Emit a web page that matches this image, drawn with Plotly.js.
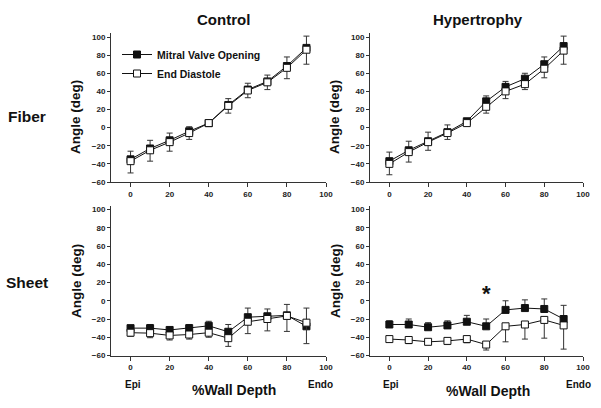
<!DOCTYPE html>
<html>
<head>
<meta charset="utf-8">
<script src="https://cdn.plot.ly/plotly-3.0.1.min.js"></script>
<style>html,body{margin:0;padding:0;background:#fff;}#chart{width:601px;height:408px;}</style>
</head>
<body>
<div id="chart"></div>
<script>
// Data: % wall depth
const depth = [0, 10, 20, 30, 40, 50, 60, 70, 80, 90];
const xTicks = [0, 20, 40, 60, 80, 100];
const yTicks = [-60, -40, -20, 0, 20, 40, 60, 80, 100];

// Control - Fiber
const ctrlFiberMVO = [-35, -23, -14, -4, 5, 25, 42, 51, 68, 88];
const ctrlFiberMVOErr = [9, 9, 8, 5, 2, 7, 7, 7, 10, 13];
const ctrlFiberED = [-37, -25, -16, -6, 5, 24, 41, 50, 66, 86];
const ctrlFiberEDErr = [13, 12, 10, 7, 2, 8, 8, 8, 12, 16];

// Hypertrophy - Fiber
const hypFiberMVO = [-37, -25, -15, -5, 7, 29, 45, 54, 70, 90];
const hypFiberMVOErr = [10, 10, 10, 8, 3, 6, 6, 6, 8, 11];
const hypFiberED = [-40, -27, -16, -6, 5, 23, 40, 48, 65, 85];
const hypFiberEDErr = [12, 11, 9, 7, 3, 7, 8, 6, 10, 15];

// Control - Sheet
const ctrlSheetMVO = [-30, -30, -32, -30, -27.5, -34, -18, -17, -16, -28];
const ctrlSheetMVOErr = [2, 4, 3, 4, 5, 8, 10, 8, 12, 20];
const ctrlSheetED = [-35, -35.5, -38, -37, -35, -41, -23, -20, -16.6, -24];
const ctrlSheetEDErr = [4, 5, 5, 5, 5, 9, 13, 13, 17, 23];

// Hypertrophy - Sheet
const hypSheetMVO = [-26, -26, -29, -27, -23, -28, -10, -8, -9, -20];
const hypSheetMVOErr = [4, 6, 5, 5, 7, 8, 10, 9, 11, 15];
const hypSheetED = [-42, -43, -45, -44, -42, -48, -28, -26, -21, -27];
const hypSheetEDErr = [3, 4, 3, 4, 4, 6, 17, 16, 20, 26];

const seriesNames = ['Mitral Valve Opening', 'End Diastole'];
const colTitles = ['Control', 'Hypertrophy'];
const rowTitles = ['Fiber', 'Sheet'];
const yTitle = 'Angle (deg)';
const xTitle = '%Wall Depth';
const xEnds = ['Epi', 'Endo'];
const sigLabel = '*';
const sigDepth = 50, sigAngle = 8;

const FONT = 'Liberation Sans, Arial, sans-serif';

function mvo(y, err, xa, ya, show) {
  return {
    x: depth, y: y, xaxis: xa, yaxis: ya, type: 'scatter', mode: 'lines+markers',
    name: seriesNames[0], showlegend: show, legendgroup: 'mvo',
    line: {color: '#111', width: 1},
    marker: {symbol: 'square', size: 7, color: '#111', line: {color: '#111', width: 1}},
    error_y: {type: 'data', symmetric: false, array: err, arrayminus: err.map(() => 0),
              color: '#333', thickness: 1, width: 3}
  };
}
function ed(y, err, xa, ya, show) {
  return {
    x: depth, y: y, xaxis: xa, yaxis: ya, type: 'scatter', mode: 'lines+markers',
    name: seriesNames[1], showlegend: show, legendgroup: 'ed',
    line: {color: '#111', width: 1},
    marker: {symbol: 'square', size: 7, color: '#fff', line: {color: '#111', width: 1}},
    error_y: {type: 'data', symmetric: false, array: err.map(() => 0), arrayminus: err,
              color: '#333', thickness: 1, width: 3}
  };
}

const traces = [
  mvo(ctrlFiberMVO, ctrlFiberMVOErr, 'x', 'y', true),
  ed(ctrlFiberED, ctrlFiberEDErr, 'x', 'y', true),
  mvo(hypFiberMVO, hypFiberMVOErr, 'x2', 'y2', false),
  ed(hypFiberED, hypFiberEDErr, 'x2', 'y2', false),
  mvo(ctrlSheetMVO, ctrlSheetMVOErr, 'x3', 'y3', false),
  ed(ctrlSheetED, ctrlSheetEDErr, 'x3', 'y3', false),
  mvo(hypSheetMVO, hypSheetMVOErr, 'x4', 'y4', false),
  ed(hypSheetED, hypSheetEDErr, 'x4', 'y4', false)
];

const W = 601, H = 408;
const px = v => v / W, py = v => 1 - v / H;
const leftDom = [px(111), px(326)];
const rightDom = [px(370), px(583)];
const topDom = [py(182), py(33.4)];
const botDom = [py(355.5), py(205.9)];

const tickFont = {family: FONT, size: 8, color: '#222', weight: 'bold'};
function xax(dom, anchor) {
  return {domain: dom, anchor: anchor, range: [-10, 100], tickvals: xTicks,
    showline: true, linecolor: '#333', linewidth: 1, ticks: 'outside', ticklen: 4,
    tickcolor: '#333', showgrid: false, zeroline: false, tickfont: tickFont, fixedrange: true};
}
function yax(dom, anchor) {
  return {domain: dom, anchor: anchor, range: [-60, 104], tickvals: yTicks,
    showline: true, linecolor: '#333', linewidth: 1, ticks: 'outside', ticklen: 3,
    tickcolor: '#333', showgrid: false, zeroline: false, tickfont: tickFont, fixedrange: true};
}

const ann = [];
const bold = (s, size) => ({family: FONT, size: size, color: '#111', weight: 'bold'});
function txt(text, x, y, size, angle) {
  ann.push({text: text, x: px(x), y: py(y), xref: 'paper', yref: 'paper', showarrow: false,
    xanchor: 'center', yanchor: 'middle', font: bold(text, size), textangle: angle || 0});
}
txt(colTitles[0], 223, 19, 15);
txt(colTitles[1], 478, 19, 15);
txt(rowTitles[0], 27, 117, 15.5);
txt(rowTitles[1], 27, 282, 15.5);
txt(yTitle, 76, 117, 13.5, -90);
txt(yTitle, 76, 281, 13.5, -90);
txt(yTitle, 335, 117, 13.5, -90);
txt(yTitle, 335, 281, 13.5, -90);
txt(xEnds[0], 133, 384, 10);
txt(xEnds[1], 320, 384, 10);
txt(xTitle, 234, 390, 14);
txt(xEnds[0], 391, 384, 10);
txt(xEnds[1], 578, 384, 10);
txt(xTitle, 488, 391, 14);
ann.push({text: sigLabel, x: sigDepth, y: sigAngle, xref: 'x4', yref: 'y4', showarrow: false,
  xanchor: 'center', yanchor: 'middle', font: {family: FONT, size: 22, color: '#111', weight: 'bold'}});

const layout = {
  width: W, height: H, margin: {l: 0, r: 0, t: 0, b: 0},
  paper_bgcolor: '#fff', plot_bgcolor: 'rgba(0,0,0,0)',
  xaxis: xax(leftDom, 'y'), yaxis: yax(topDom, 'x'),
  xaxis2: xax(rightDom, 'y2'), yaxis2: yax(topDom, 'x2'),
  xaxis3: xax(leftDom, 'y3'), yaxis3: yax(botDom, 'x3'),
  xaxis4: xax(rightDom, 'y4'), yaxis4: yax(botDom, 'x4'),
  showlegend: true,
  legend: {x: px(117), y: py(40), xanchor: 'left', yanchor: 'top', bgcolor: 'rgba(0,0,0,0)',
    font: {family: FONT, size: 10.5, color: '#111', weight: 'bold'}, tracegroupgap: 0},
  annotations: ann
};

Plotly.newPlot('chart', traces, layout, {staticPlot: true, displayModeBar: false});
</script>
</body>
</html>
